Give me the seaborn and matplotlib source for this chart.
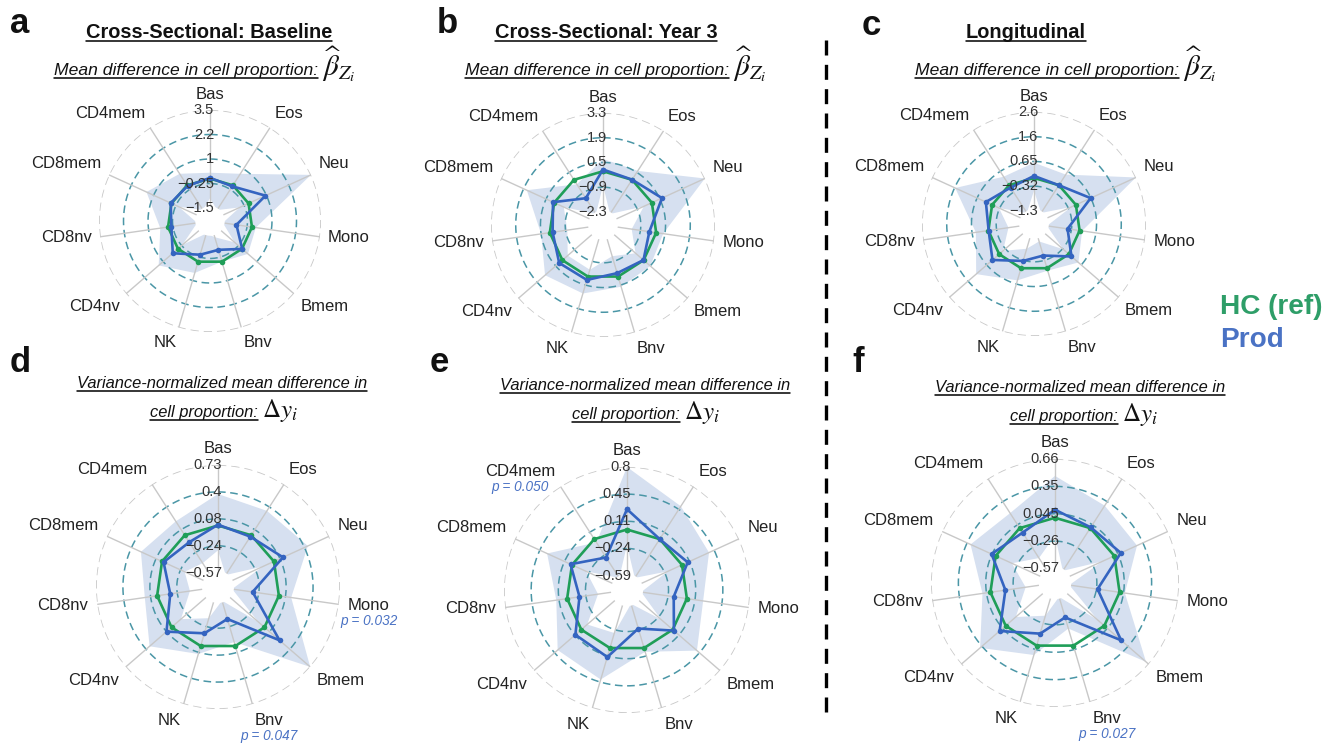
import numpy as np
import pandas as pd
import matplotlib
matplotlib.use('Agg')
import matplotlib.pyplot as plt
import seaborn as sns
from matplotlib.lines import Line2D
from matplotlib.patches import Circle

sns.set_theme(style='white')
plt.rcParams['font.family'] = ['Liberation Sans', 'DejaVu Sans']
plt.rcParams['mathtext.fontset'] = 'stix'

# Cores
verde = '#1f9e58'
azul = '#3464c0'
faixa = '#d6e0f0'
teal = '#4a96a6'
cinza = '#c8c8c8'

cell_types = ['Bas', 'Eos', 'Neu', 'Mono', 'Bmem', 'Bnv', 'NK', 'CD4nv', 'CD8nv', 'CD8mem', 'CD4mem']

# HC (ref) = referencia, diferenca zero
hc_ref = [0, 0, 0, 0, 0, 0, 0, 0, 0, 0, 0]

# a - Cross-Sectional: Baseline
prod_a = [0.04, -0.06, 0.95, -0.80, 0.01, -0.63, -0.37, 0.35, -0.17, 0.04, -0.04]
low_a = [-1.0, -1.5, -0.5, -1.5, -0.5, -1.3, -1.5, -0.3, -1.5, -0.4, -1.5]
up_a = [0.3, 0.7, 3.5, 0.2, 0.4, 0.0, 0.6, 1.3, 0.4, 1.4, 0.7]
lim_a = (-1.5, 3.5)
ticks_a = ['-1.5', '-0.25', '1', '2.2', '3.5']

# b - Cross-Sectional: Year 3
prod_b = [0.10, 0.01, 0.63, -0.39, -0.01, -0.20, 0.20, 0.24, -0.16, 0.07, -1.24]
low_b = [-0.8, -2.3, -0.5, -1.4, -0.6, -1.2, -0.4, -0.4, -1.0, -0.6, -2.3]
up_b = [0.7, 0.6, 3.3, 0.4, 0.5, 0.6, 1.0, 1.3, 0.5, 1.7, -0.3]
lim_b = (-2.3, 3.3)
ticks_b = ['-2.3', '-0.9', '0.5', '1.9', '3.3']

# c - Longitudinal
prod_c = [0.08, 0.0, 0.64, -0.48, 0.14, -0.52, -0.30, 0.35, -0.01, 0.27, -0.11]
low_c = [-0.5, -1.3, -0.2, -1.3, -0.3, -1.1, -0.8, -0.2, -0.8, -0.3, -1.3]
up_c = [0.6, 0.5, 2.6, 0.1, 0.5, 0.1, 0.5, 1.2, 0.5, 1.6, 0.4]
lim_c = (-1.3, 2.6)
ticks_c = ['-1.3', '-0.32', '0.65', '1.6', '2.6']

# d - Variance-normalized, Baseline
prod_d = [0.01, -0.02, 0.12, -0.32, 0.24, -0.34, -0.16, 0.08, -0.16, -0.02, -0.10]
low_d = [-0.3, -0.57, -0.15, -0.57, -0.1, -0.57, -0.35, -0.15, -0.4, -0.3, -0.4]
up_d = [0.38, 0.35, 0.45, 0.15, 0.73, -0.05, 0.1, 0.35, 0.15, 0.28, 0.2]
lim_d = (-0.57, 0.73)
ticks_d = ['-0.57', '-0.24', '0.08', '0.4', '0.73']

# e - Variance-normalized, Year 3
prod_e = [0.26, 0.0, 0.08, -0.17, 0.02, -0.26, 0.12, 0.10, -0.16, 0.02, -0.28]
low_e = [-0.2, -0.59, -0.2, -0.59, -0.2, -0.59, -0.2, -0.1, -0.4, -0.2, -0.59]
up_e = [0.8, 0.5, 0.38, 0.21, 0.41, 0.05, 0.42, 0.40, 0.14, 0.35, -0.05]
lim_e = (-0.59, 0.8)
ticks_e = ['-0.59', '-0.24', '0.11', '0.45', '0.8']

# f - Variance-normalized, Longitudinal
prod_f = [0.09, 0.01, 0.08, -0.25, 0.25, -0.33, -0.14, 0.09, -0.17, 0.05, -0.06]
low_f = [-0.2, -0.57, -0.15, -0.57, -0.1, -0.57, -0.35, -0.15, -0.4, -0.2, -0.4]
up_f = [0.47, 0.3, 0.28, 0.06, 0.62, -0.2, 0.11, 0.38, 0.09, 0.31, 0.2]
lim_f = (-0.57, 0.66)
ticks_f = ['-0.57', '-0.26', '0.045', '0.35', '0.66']

# p-valores (painel, celula, texto)
pvals = [('d', 'Mono', 'p = 0.032'), ('d', 'Bnv', 'p = 0.047'),
         ('e', 'CD4mem', 'p = 0.050'), ('f', 'Bnv', 'p = 0.027')]

W, H = 1336, 743
fig = plt.figure(figsize=(W / 100, H / 100), dpi=100)
fig.patch.set_facecolor('white')
renderer = fig.canvas.get_renderer()

# centro (px) e raio externo (px) de cada painel
paineis = {
    'a': (prod_a, low_a, up_a, lim_a, ticks_a, 210, 221, 111),
    'b': (prod_b, low_b, up_b, lim_b, ticks_b, 603, 225, 112),
    'c': (prod_c, low_c, up_c, lim_c, ticks_c, 1034, 224, 112),
    'd': (prod_d, low_d, up_d, lim_d, ticks_d, 218, 587, 122),
    'e': (prod_e, low_e, up_e, lim_e, ticks_e, 627, 590, 123),
    'f': (prod_f, low_f, up_f, lim_f, ticks_f, 1055, 583, 124),
}

n = len(cell_types)
ang = np.linspace(0, 2 * np.pi, n, endpoint=False)
ang_c = np.append(ang, ang[0])
circ = np.linspace(0, 2 * np.pi, 300)
FURO = 0.1325  # fracao do raio vazia no centro


def fechar(v):
    v = np.asarray(v, dtype=float)
    return np.append(v, v[0])


def radar(letra, prod, low, up, lim, tick_lbls, cx, cy, R):
    ax = fig.add_axes([(cx - R) / W, (H - cy - R) / H, 2 * R / W, 2 * R / H], projection='polar')
    rmin, rmax = lim
    ax.set_theta_zero_location('N')
    ax.set_theta_direction(-1)
    ax.set_ylim(rmin, rmax)
    ax.set_rorigin(rmin - FURO * (rmax - rmin))
    ax.grid(False)
    ax.set_xticks([])
    ax.set_yticks([])
    ax.patch.set_alpha(0)

    # faixa de incerteza
    th = np.concatenate([ang_c, ang_c[::-1]])
    rr = np.concatenate([fechar(up), fechar(low)[::-1]])
    ax.fill(th, rr, color=faixa, lw=0, zorder=1)

    # grade
    tvals = np.linspace(rmin, rmax, 5)
    for t in tvals[1:4]:
        ax.plot(circ, np.full(circ.size, t), color=teal, lw=1.1, ls=(0, (5, 3)), zorder=2)
    ax.plot(circ, np.full(circ.size, rmax), color=cinza, lw=1.2, ls=(0, (5, 3)), zorder=2)
    for a in ang:
        ax.plot([a, a], [rmin, rmax], color=cinza, lw=1.0, zorder=2)

    df = pd.DataFrame({'ang': np.concatenate([ang_c, ang_c]),
                       'val': np.concatenate([fechar(hc_ref), fechar(prod)]),
                       'grupo': ['HC (ref)'] * (n + 1) + ['Prod'] * (n + 1)})
    sns.lineplot(data=df, x='ang', y='val', hue='grupo', palette=[verde, azul], sort=False,
                 estimator=None, marker='o', markersize=4, markeredgewidth=0, lw=1.9,
                 legend=False, ax=ax, zorder=4)
    ax.set_xlabel('')
    ax.set_ylabel('')
    ax.set_ylim(rmin, rmax)
    for s in ax.spines.values():
        s.set_visible(False)
        s.set_linewidth(0)
        s.set_edgecolor('white')

    # furo central
    furo = FURO / (1 + FURO) * 0.5
    ax.add_patch(Circle((0.5, 0.5), furo, transform=ax.transAxes, facecolor='white',
                        edgecolor='white', lw=2.5, zorder=3.5, clip_on=False))

    # rotulos radiais
    for t, lbl in zip(tvals, tick_lbls):
        ax.annotate(lbl.replace('-', '\u2212'), xy=(0, t), xytext=(3, 0), textcoords='offset points',
                    ha='right', va='center', fontsize=10.5, color='#333333', zorder=6)

    # rotulos das celulas
    rlab = rmax + 0.075 * (rmax - ax.get_rorigin())
    for a, nome in zip(ang, cell_types):
        s, c = np.sin(a), np.cos(a)
        ha = 'left' if s > 0.1 else ('right' if s < -0.1 else 'center')
        va = 'bottom' if c > 0.3 else ('top' if c < -0.3 else 'center')
        t = ax.text(a, rlab, nome, ha=ha, va=va, fontsize=12, color='#222222')
        for (p, cel, txt) in pvals:
            if p == letra and cel == nome:
                bb = t.get_window_extent(renderer)
                fig.text((bb.x0 + bb.x1) / 2 / W, (bb.y0 - 1) / H, txt, ha='center', va='top',
                         fontsize=9.8, style='italic', color='#4a72c4')
    return ax


for k, (prod, low, up, lim, tl, cx, cy, R) in paineis.items():
    radar(k, prod, low, up, lim, tl, cx, cy, R)


def texto(x, y, s, ha='center', sub=False, **kw):
    t = fig.text(x / W, 1 - y / H, s, ha=ha, va='baseline', **kw)
    if sub:
        bb = t.get_window_extent(renderer)
        yl = 1 - (y + 3) / H
        fig.add_artist(Line2D([bb.x0 / W, bb.x1 / W], [yl, yl], color='black', lw=1.1))
    return t


# letras dos paineis
for letra, x, y in [('a', 10, 33), ('b', 437, 33), ('c', 862, 35), ('d', 10, 372), ('e', 430, 372), ('f', 852, 372)]:
    texto(x, y, letra, ha='left', fontsize=25, fontweight='bold', color='#111111')

# titulos
for s, x in [('Cross-Sectional: Baseline', 209), ('Cross-Sectional: Year 3', 606), ('Longitudinal', 1026)]:
    texto(x, 38, s, sub=True, fontsize=14.4, fontweight='bold', color='#111111')

beta = r'$\widehat{\beta}_{Z_i}$'
dy = r'$\Delta y_i$'
for xs in [318, 729, 1179]:
    texto(xs, 75, 'Mean difference in cell proportion:', ha='right', sub=True,
          fontsize=12.6, style='italic', color='#111111')
    texto(xs + 4, 75, beta, ha='left', fontsize=21, color='#111111')

for xc, xs, y1 in [(222, 258, 388), (645, 680, 390), (1080, 1118, 392)]:
    texto(xc, y1, 'Variance-normalized mean difference in', sub=True,
          fontsize=11.9, style='italic', color='#111111')
    texto(xs, y1 + 29, 'cell proportion:', ha='right', sub=True,
          fontsize=11.9, style='italic', color='#111111')
    texto(xs + 4, y1 + 29, dy, ha='left', fontsize=18, color='#111111')

# legenda
texto(1220, 314, 'HC (ref)', ha='left', fontsize=20.2, fontweight='bold', color='#2e9e68')
texto(1220, 347, 'Prod', ha='left', fontsize=20.2, fontweight='bold', color='#4a72c4')

# linha divisoria
fig.add_artist(Line2D([826 / W, 826 / W], [1 - 40 / H, 1 - 716 / H], color='black', lw=2.4,
                      ls=(0, (4.5, 2.8))))

fig.savefig('out.png', dpi=100, facecolor='white')
